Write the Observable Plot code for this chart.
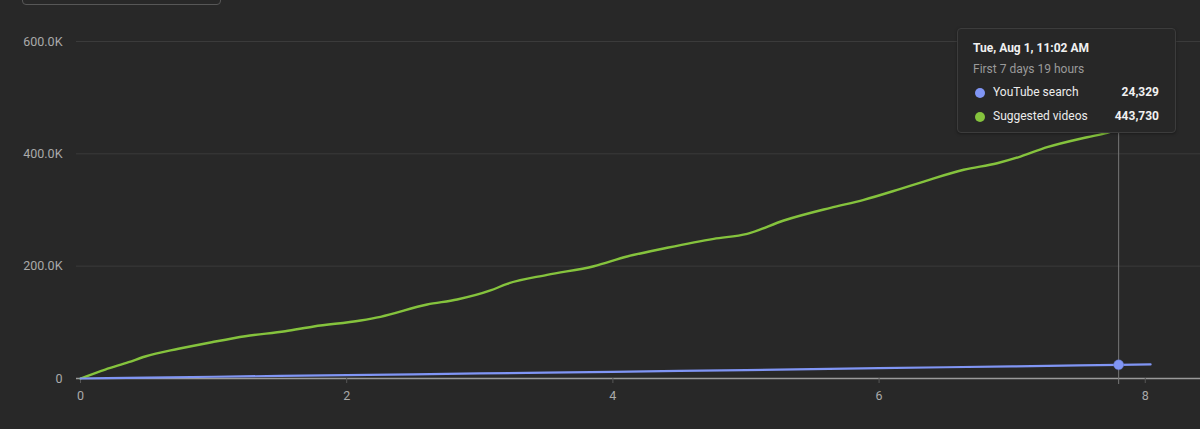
<!DOCTYPE html>
<html>
<head>
<meta charset="utf-8">
<script src="https://cdn.jsdelivr.net/npm/d3@7"></script>
<script src="https://cdn.jsdelivr.net/npm/@observablehq/plot@0.6"></script>
<style>
  html, body { margin: 0; padding: 0; background: #282828; overflow: hidden; }
  #wrap { position: relative; width: 1200px; height: 429px; font-family: Roboto, "Noto Sans", sans-serif; }
  #wrap svg { display: block; }
  #dropdown { position: absolute; left: 22px; top: -30px; width: 199px; height: 35px; box-sizing: border-box;
    border: 1.5px solid #575757; border-radius: 4px; }
  #tip { position: absolute; left: 957px; top: 28px; width: 219px; height: 105px; box-sizing: border-box;
    background: #272727; border: 1px solid #3c3c3c; border-radius: 4px; color: #eee; font-size: 12px;
    box-shadow: 0 1px 3px rgba(0,0,0,0.35); }
  #tip .t { position: absolute; left: 15px; top: 12px; font-weight: bold; font-size: 12px; color: #f1f1f1; white-space: nowrap; }
  #tip .s { position: absolute; left: 15px; top: 33px; color: #9a9a9a; font-size: 12px; white-space: nowrap; }
  #tip .row { position: absolute; left: 15px; right: 16px; height: 16px; white-space: nowrap; }
  #tip .dot { position: absolute; left: 2px; top: 3px; width: 10px; height: 10px; border-radius: 50%; }
  #tip .lab { position: absolute; left: 20px; top: 0; color: #ececec; }
  #tip .val { position: absolute; right: 0; top: 0; font-weight: bold; color: #f1f1f1; }
</style>
</head>
<body>
<div id="wrap"></div>
<script>
// ---- data (values in views, x in days since publish) ----
const seriesNames = ["YouTube search", "Suggested videos"];
const seriesColors = ["#8095f4", "#85c33d"];

const searchDays   = [0, 0.2, 0.5, 1, 1.5, 2, 2.5, 3, 3.5, 4, 4.5, 5, 5.5, 6, 6.5, 7, 7.5, 7.8, 8.04];
const searchViews  = [0, 600, 1600, 3100, 4600, 6000, 7400, 9000, 10400, 11800, 13400, 15000, 16600, 18400, 20000, 21600, 23200, 24329, 25000];

const suggestedDays  = [0, 0.186, 0.361, 0.486, 0.736, 0.986, 1.237, 1.538, 1.753, 2.104, 2.254, 2.605, 2.83, 3.08, 3.206, 3.506, 3.857, 4.107, 4.408, 4.758, 5.009, 5.284, 5.635, 5.885, 6.161, 6.336, 6.636, 6.887, 7.062, 7.263, 7.563, 7.714, 7.8, 7.92, 8.04];
const suggestedViews = [0, 16000, 29000, 39200, 52900, 64600, 75300, 84200, 92600, 103300, 109800, 131700, 140600, 156700, 168600, 184600, 199900, 217200, 232700, 248700, 257600, 281300, 303900, 318100, 337700, 350700, 371600, 383300, 395200, 411800, 429600, 437400, 443730, 449500, 455500];

const xTicks = [0, 2, 4, 6, 8];
const yTicks = [0, 200000, 400000, 600000];
const yGrid = [200000, 400000, 600000];

const hoverDay = 7.8;
const hoverTitle = "Tue, Aug 1, 11:02 AM";
const hoverSubtitle = "First 7 days 19 hours";
const hoverValues = [24329, 443730];

// ---- build tables ----
const search = searchDays.map((d, i) => ({day: d, views: searchViews[i]}));
const suggested = suggestedDays.map((d, i) => ({day: d, views: suggestedViews[i]}));

const fmtY = d => d === 0 ? "0" : (d / 1000).toFixed(1) + "K";

const chart = Plot.plot({
  width: 1200,
  height: 429,
  marginLeft: 80,
  marginRight: 0,
  marginTop: 41,
  marginBottom: 51,
  style: {background: "#282828", color: "#aaaaaa", fontFamily: "Roboto, 'Noto Sans', sans-serif", fontSize: "12px"},
  x: {domain: [0, 8.415]},
  y: {domain: [0, 600000]},
  marks: [
    Plot.ruleY(yGrid, {stroke: "#3b3b3b", strokeWidth: 1, insetLeft: -4}),
    Plot.ruleY([0], {stroke: "#9a9a9a", strokeWidth: 1.5, insetLeft: -4}),
    Plot.axisY({ticks: yTicks, tickSize: 0, tickPadding: 18, tickFormat: fmtY, label: null, fill: "#aaaaaa", fontSize: 12.5}),
    Plot.axisX({ticks: xTicks, tickSize: 5, tickPadding: 8, tickFormat: d => String(d), label: null, stroke: "#555555", fill: "#aaaaaa", fontSize: 12.5}),
    Plot.ruleX([hoverDay], {y1: -10700, y2: 445000, stroke: "#777777", strokeWidth: 1}),
    Plot.line(suggested, {x: "day", y: "views", stroke: seriesColors[1], strokeWidth: 2.4, curve: "monotone-x"}),
    Plot.line(search, {x: "day", y: "views", stroke: seriesColors[0], strokeWidth: 2.2}),
    Plot.dot([{day: hoverDay, views: hoverValues[0]}], {x: "day", y: "views", r: 5, fill: seriesColors[0], stroke: "#5f6fc0", strokeWidth: 0.5})
  ]
});

const wrap = document.getElementById("wrap");
wrap.appendChild(chart);

const dd = document.createElement("div");
dd.id = "dropdown";
wrap.appendChild(dd);

const tip = document.createElement("div");
tip.id = "tip";
const fmtN = d3.format(",");
let html = `<div class="t">${hoverTitle}</div><div class="s">${hoverSubtitle}</div>`;
const rowTops = [56, 80];
seriesNames.forEach((name, i) => {
  html += `<div class="row" style="top:${rowTops[i]}px"><span class="dot" style="background:${seriesColors[i]}"></span><span class="lab">${name}</span><span class="val">${fmtN(hoverValues[i])}</span></div>`;
});
tip.innerHTML = html;
wrap.appendChild(tip);
</script>
</body>
</html>
